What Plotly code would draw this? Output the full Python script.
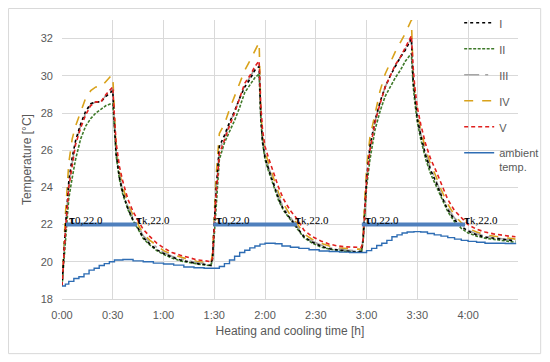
import plotly.graph_objects as go

# time in minutes
t = [0, 1, 2, 4, 6, 8, 11, 14, 17, 20, 23, 26, 29, 30,
     31, 32, 34, 36, 39, 42, 45, 48, 52, 56, 60, 65, 70, 75, 80, 85, 88,
     89, 90, 91, 93, 96, 99, 102, 105, 108, 111, 114, 116.5,
     117.5, 118.5, 120, 122, 125, 128, 131, 135, 139, 143, 148, 153, 158, 163, 168, 173, 177,
     178, 179, 180, 182, 185, 188, 191, 194, 197, 200, 203, 206.5,
     207.5, 208.5, 210, 212, 215, 218, 221, 224, 228, 232, 236, 240, 245, 250, 255, 260, 264, 268]

s_I = [18.7, 20.3, 21.8, 24.3, 25.6, 26.5, 27.4, 28.1, 28.5, 28.6, 28.6, 28.9, 29.1, 29.2,
       27.3, 25.8, 24.5, 23.7, 22.85, 22.25, 21.8, 21.3, 20.95, 20.65, 20.45, 20.25, 20.1, 20.0, 19.9, 19.85, 19.8,
       20.3, 22.0, 23.8, 26.2, 26.8, 27.5, 28.1, 28.8, 29.4, 29.8, 30.3, 30.5,
       27.8, 26.5, 25.6, 25.0, 24.2, 23.4, 22.8, 22.3, 21.85, 21.35, 21.05, 20.85, 20.7, 20.62, 20.58, 20.55, 20.55,
       21.3, 23.0, 24.5, 26.2, 27.6, 28.6, 29.4, 30.0, 30.5, 31.0, 31.4, 32.0,
       29.8, 28.8, 27.7, 26.8, 25.7, 24.9, 24.3, 23.6, 22.8, 22.25, 21.9, 21.65, 21.45, 21.33, 21.27, 21.2, 21.15, 21.12]

s_II = [18.7, 20.0, 21.3, 23.4, 24.5, 25.5, 26.6, 27.3, 27.7, 28.0, 28.2, 28.4, 28.5, 28.5,
        27.2, 25.7, 24.4, 23.6, 22.8, 22.2, 21.75, 21.25, 20.9, 20.6, 20.4, 20.2, 20.05, 19.95, 19.88, 19.82, 19.8,
        20.1, 21.5, 23.2, 25.5, 26.4, 27.0, 27.6, 28.3, 29.1, 29.5, 29.9, 30.1,
        27.7, 26.4, 25.5, 24.9, 24.1, 23.3, 22.75, 22.25, 21.8, 21.3, 21.0, 20.8, 20.68, 20.6, 20.55, 20.53, 20.52,
        21.1, 22.5, 24.0, 25.5, 27.1, 28.1, 28.9, 29.4, 29.9, 30.3, 30.8, 31.2,
        29.5, 28.6, 27.5, 26.6, 25.5, 24.7, 24.1, 23.45, 22.7, 22.15, 21.8, 21.55, 21.38, 21.27, 21.2, 21.13, 21.08, 21.05]

s_III = [18.7, 20.3, 21.7, 24.2, 25.4, 26.4, 27.3, 28.0, 28.45, 28.6, 28.6, 28.95, 29.2, 29.3,
         27.4, 25.9, 24.6, 23.8, 22.95, 22.35, 21.9, 21.4, 21.05, 20.75, 20.5, 20.3, 20.15, 20.05, 19.95, 19.9, 19.85,
         20.25, 21.9, 23.7, 26.0, 26.7, 27.4, 28.05, 28.8, 29.5, 29.9, 30.4, 30.6,
         27.9, 26.6, 25.7, 25.1, 24.3, 23.5, 22.9, 22.4, 21.95, 21.4, 21.1, 20.9, 20.75, 20.68, 20.63, 20.6, 20.6,
         21.25, 22.9, 24.4, 26.1, 27.55, 28.55, 29.4, 30.0, 30.55, 31.0, 31.45, 32.0,
         29.9, 28.9, 27.8, 26.9, 25.8, 25.0, 24.4, 23.7, 22.9, 22.35, 22.0, 21.7, 21.5, 21.38, 21.3, 21.24, 21.18, 21.15]

s_IV = [18.7, 20.8, 22.5, 25.3, 26.6, 27.3, 28.1, 28.8, 29.2, 29.4, 29.4, 29.7, 30.0, 30.0,
        27.6, 26.1, 24.8, 24.0, 23.1, 22.5, 22.0, 21.5, 21.15, 20.85, 20.6, 20.4, 20.25, 20.12, 20.02, 19.97, 19.92,
        20.5, 22.5, 24.5, 26.9, 27.4, 28.2, 28.9, 29.6, 30.3, 30.8, 31.3, 31.8,
        28.1, 26.8, 25.9, 25.3, 24.5, 23.7, 23.1, 22.5, 22.05, 21.5, 21.2, 21.0, 20.85, 20.75, 20.7, 20.68, 20.68,
        21.5, 23.5, 25.0, 26.7, 28.0, 29.2, 30.1, 30.7, 31.3, 31.8, 32.3, 33.0,
        30.2, 29.1, 28.0, 27.1, 26.0, 25.2, 24.6, 23.9, 23.1, 22.5, 22.1, 21.8, 21.6, 21.45, 21.38, 21.3, 21.25, 21.22]

s_V = [18.7, 20.2, 21.6, 24.0, 25.2, 26.3, 27.2, 27.9, 28.4, 28.6, 28.6, 29.0, 29.3, 29.4,
       27.8, 26.4, 25.1, 24.3, 23.35, 22.7, 22.2, 21.75, 21.35, 21.0, 20.75, 20.5, 20.35, 20.22, 20.1, 20.05, 20.0,
       20.2, 21.8, 23.5, 25.8, 26.6, 27.3, 28.0, 28.8, 29.6, 30.0, 30.5, 30.8,
       28.4, 27.1, 26.2, 25.6, 24.8, 24.0, 23.35, 22.75, 22.3, 21.7, 21.35, 21.12, 20.95, 20.85, 20.8, 20.78, 20.78,
       21.2, 22.8, 24.3, 26.0, 27.5, 28.5, 29.4, 30.0, 30.6, 31.0, 31.5, 32.15,
       30.5, 29.4, 28.3, 27.4, 26.3, 25.5, 24.9, 24.2, 23.35, 22.75, 22.35, 22.0, 21.75, 21.6, 21.5, 21.42, 21.38, 21.35]

t_amb = [0, 2, 4, 7, 10, 13, 16, 19, 22, 25, 28, 31, 36, 42, 48, 54, 60, 66, 72, 78, 84, 90,
         93, 96, 99, 102, 105, 108, 111, 114, 117, 120, 126, 130, 135, 140, 146, 152, 158, 164, 170, 176,
         180, 183, 186, 189, 192, 195, 198, 201, 204, 208, 212, 216, 220, 224, 228, 232, 236, 240, 245, 250,
         256, 262, 268]
s_amb = [18.7, 18.8, 18.95, 19.1, 19.2, 19.35, 19.55, 19.65, 19.8, 19.9, 20.0, 20.1, 20.12, 20.05, 20.0,
         19.93, 19.88, 19.82, 19.72, 19.68, 19.65, 19.65,
         19.75, 19.9, 20.1, 20.3, 20.5, 20.62, 20.75, 20.85, 20.95, 21.0, 20.97, 20.85, 20.78, 20.72, 20.65,
         20.58, 20.55, 20.52, 20.5, 20.5,
         20.6, 20.72, 20.88, 21.0, 21.15, 21.35, 21.45, 21.55, 21.6, 21.62, 21.6, 21.52, 21.45, 21.38, 21.3,
         21.22, 21.15, 21.1, 21.05, 21.0, 21.0, 20.98, 20.95]

# start (tau_0) and end (tau_k) of the 22.0 degC intervals [min]
tau0 = [2.4, 89.4, 177.2]
tauk = [44.3, 138.8, 238.2]
level = 22.0

tick_vals = [0, 30, 60, 90, 120, 150, 180, 210, 240]
tick_text = ["0:00", "0:30", "1:00", "1:30", "2:00", "2:30", "3:00", "3:30", "4:00"]

names = ["I", "II", "III", "IV", "V"]
series = [s_I, s_II, s_III, s_IV, s_V]
colors = ["#000000", "#3f7a2a", "#a6a6a6", "#d9a21b", "#e0201f"]
dashes = ["dot", "3px,1.5px", "longdashdot", "dash", "4px,3px"]
draw_order = [3, 2, 1, 0, 4]

fig = go.Figure()
for i in draw_order:
    fig.add_trace(go.Scatter(x=t, y=series[i], mode="lines", name=names[i],
                             line=dict(color=colors[i], dash=dashes[i], width=1.6),
                             legendrank=i + 1, legendgroup=names[i]))

fig.add_trace(go.Scatter(x=t_amb, y=s_amb, mode="lines", name="ambient<br>temp.",
                         line=dict(color="#2e6db4", width=1.4, shape="hv"),
                         legendrank=6, legendgroup="amb"))

bx, by = [], []
for a, b in zip(tau0, tauk):
    bx += [a, b, None]
    by += [level, level, None]
fig.add_trace(go.Scatter(x=bx, y=by, mode="lines", showlegend=False,
                         line=dict(color="#4f80bd", width=4)))

serif = "Liberation Serif, Times New Roman, serif"
for a in tau0:
    fig.add_annotation(x=a + 0.6, y=level + 0.27, xref="x", yref="y", showarrow=False,
                       xanchor="left", yanchor="middle",
                       text="<b><span style='font-size:13px'>τ</span></b>0,22.0",
                       font=dict(family=serif, size=11, color="#000"))
for b in tauk:
    fig.add_annotation(x=b - 2.0, y=level + 0.27, xref="x", yref="y", showarrow=False,
                       xanchor="left", yanchor="middle",
                       text="<b><span style='font-size:13px'>τ</span></b>k,22.0",
                       font=dict(family=serif, size=11, color="#000"))

fig.add_shape(type="rect", xref="paper", yref="paper", x0=-0.1172, x1=1.0497, y0=-0.1958, y1=1.0412,
              line=dict(color="#d9d9d9", width=1), fillcolor="rgba(0,0,0,0)", layer="below")

gray = "#595959"
fig.update_layout(
    width=542, height=354,
    margin=dict(l=54, r=32, t=12, b=63, autoexpand=False),
    paper_bgcolor="white", plot_bgcolor="white",
    font=dict(family="Liberation Sans, Arial, sans-serif", size=11, color=gray),
    xaxis=dict(range=[0, 269.5], tickvals=tick_vals, ticktext=tick_text,
               showgrid=True, gridcolor="#d9d9d9", gridwidth=1,
               zeroline=False, showline=True, linecolor="#d9d9d9",
               ticks="", ticklabelstandoff=6,
               title=dict(text="Heating and cooling time [h]", font=dict(size=12, color=gray), standoff=6)),
    yaxis=dict(range=[18, 33], tickvals=[18, 20, 22, 24, 26, 28, 30, 32],
               showgrid=True, gridcolor="#d9d9d9", gridwidth=1,
               zeroline=False, showline=False, ticks="", ticklabelstandoff=8,
               title=dict(text="Temperature [°C]", font=dict(size=12, color=gray), standoff=6)),
    legend=dict(x=0.871, xanchor="left", y=1.039, yanchor="top",
                bgcolor="rgba(0,0,0,0)", borderwidth=0, tracegroupgap=7,
                font=dict(size=11, color=gray), valign="top", itemwidth=30),
    showlegend=True,
)

fig.write_html("out.html")
